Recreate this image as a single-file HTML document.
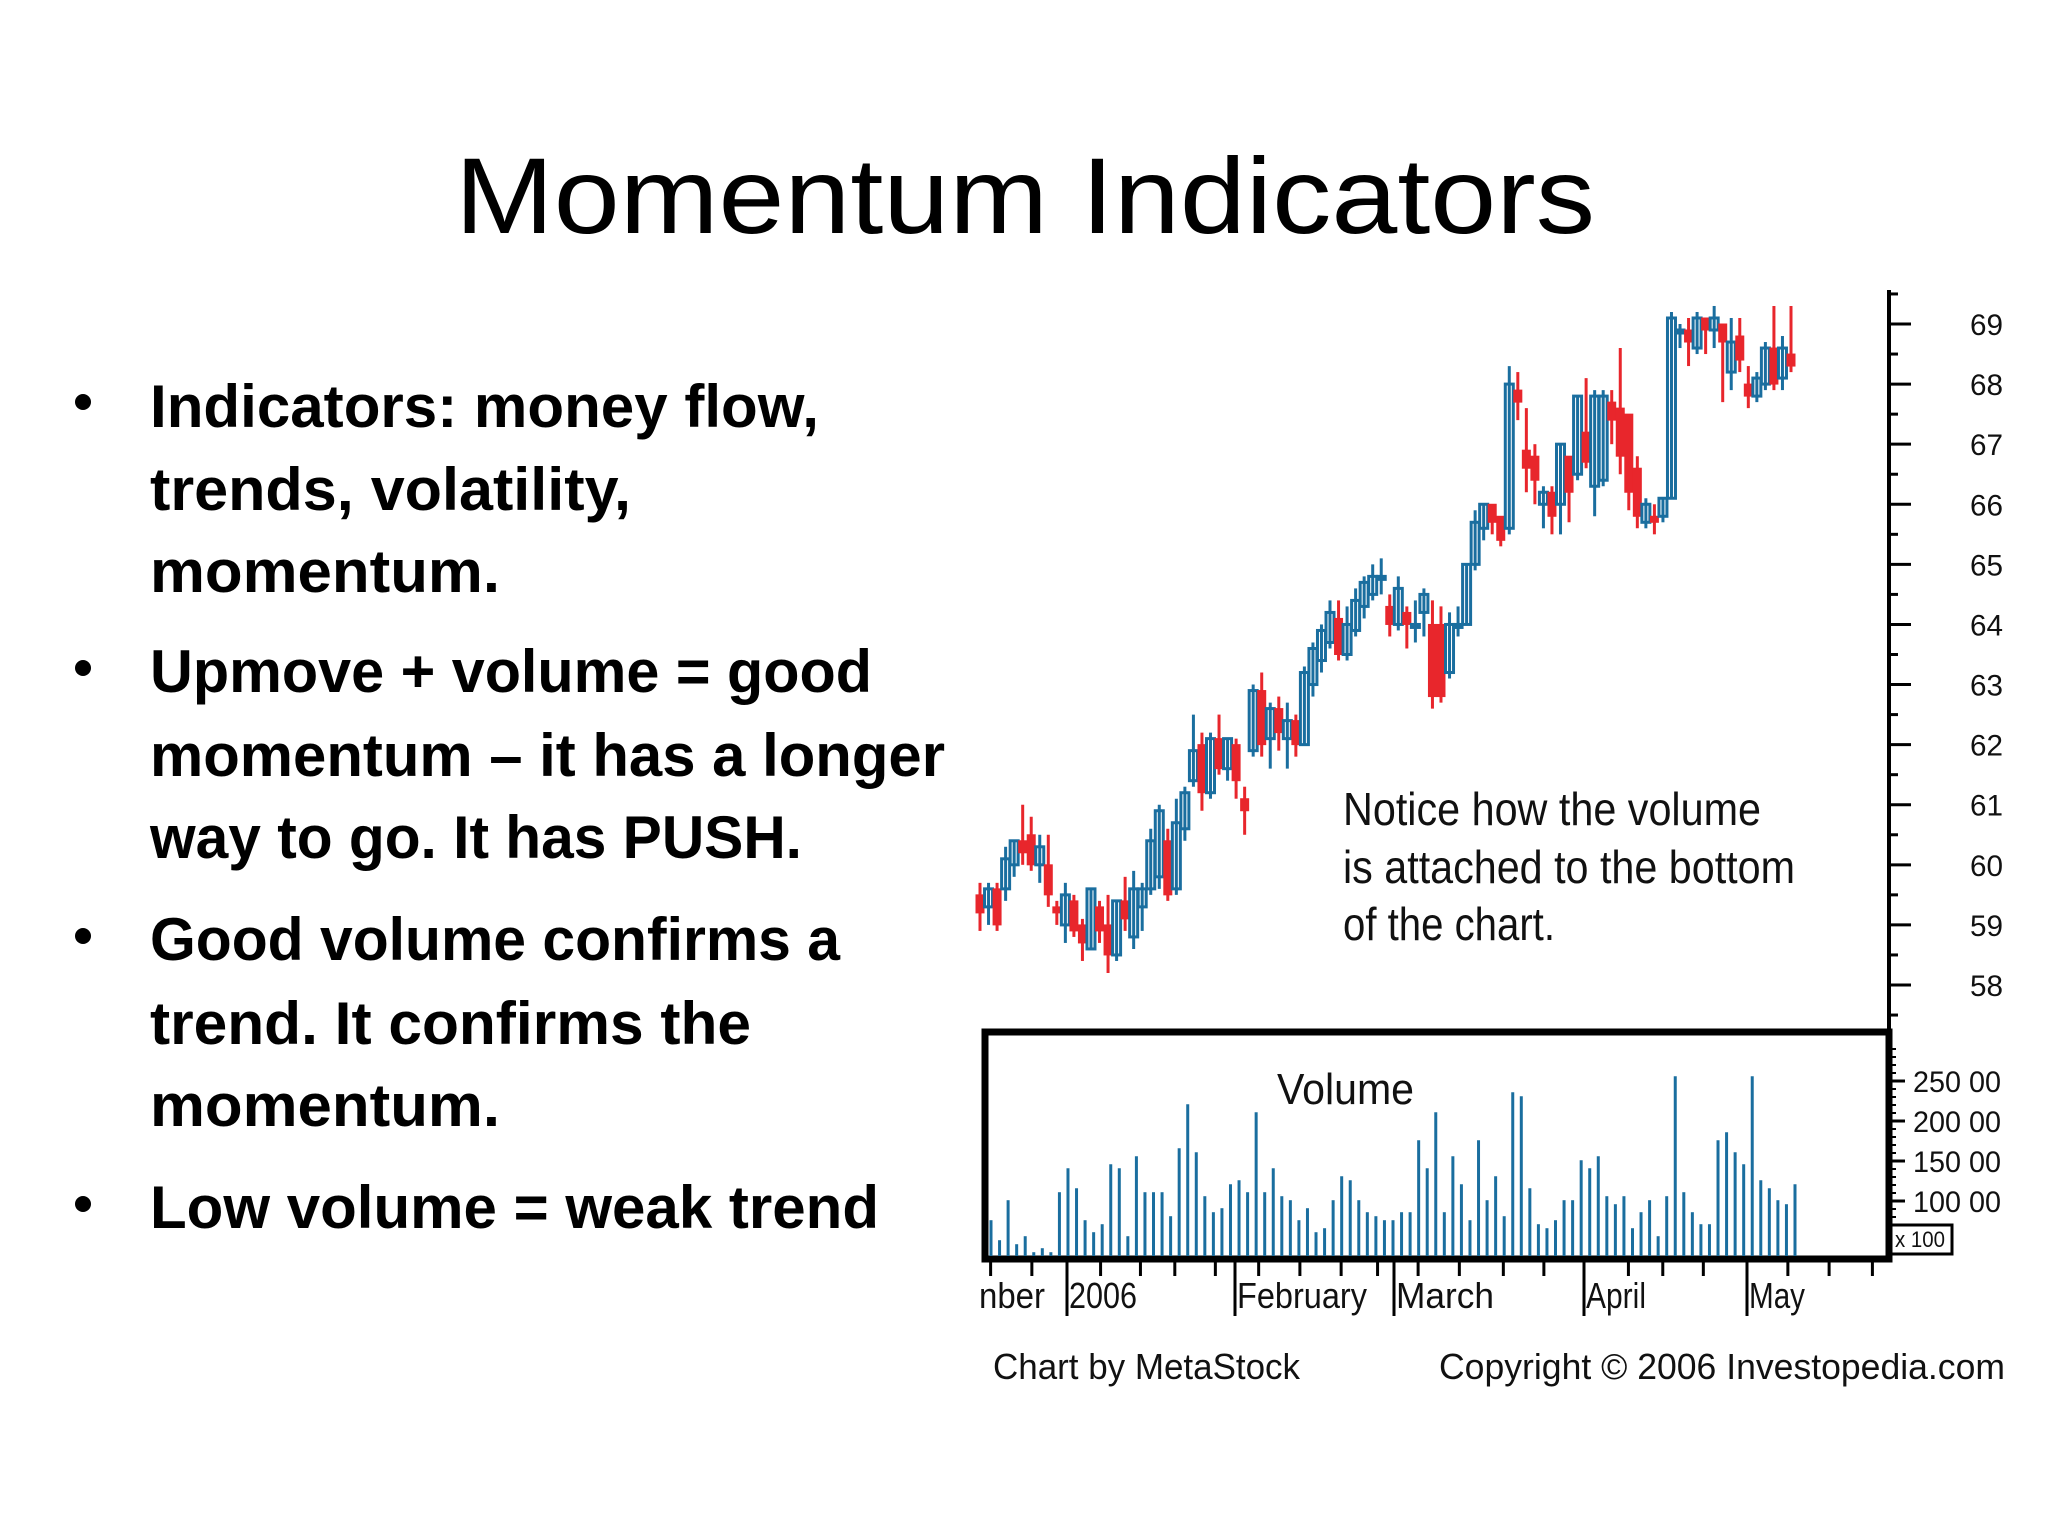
<!DOCTYPE html>
<html><head><meta charset="utf-8"><style>
html,body{margin:0;padding:0;background:#fff;}
svg{display:block;}
.b{font-family:"Liberation Sans",sans-serif;font-weight:bold;font-size:60px;fill:#000;}
.c{font-family:"Liberation Sans Narrow","Liberation Sans",sans-serif;fill:#111;}
</style></head><body>
<svg id="s" width="2048" height="1536" viewBox="0 0 2048 1536" xmlns="http://www.w3.org/2000/svg">
<rect width="2048" height="1536" fill="#fff"/>
<text x="455" y="233" font-family="Liberation Sans, sans-serif" font-size="108" textLength="1140" lengthAdjust="spacingAndGlyphs">Momentum Indicators</text>
<g>
<circle cx="83" cy="402" r="8"/>
<text class="b" x="150" y="427" textLength="669" lengthAdjust="spacingAndGlyphs">Indicators: money flow,</text>
<text class="b" x="150" y="510" textLength="481" lengthAdjust="spacingAndGlyphs">trends, volatility,</text>
<text class="b" x="150" y="592" textLength="350" lengthAdjust="spacingAndGlyphs">momentum.</text>
<circle cx="83" cy="668" r="8"/>
<text class="b" x="150" y="692" textLength="722" lengthAdjust="spacingAndGlyphs">Upmove + volume = good</text>
<text class="b" x="150" y="776" textLength="795" lengthAdjust="spacingAndGlyphs">momentum – it has a longer</text>
<text class="b" x="150" y="858" textLength="652" lengthAdjust="spacingAndGlyphs">way to go. It has PUSH.</text>
<circle cx="83" cy="936" r="8"/>
<text class="b" x="150" y="960" textLength="690" lengthAdjust="spacingAndGlyphs">Good volume confirms a</text>
<text class="b" x="150" y="1044" textLength="601" lengthAdjust="spacingAndGlyphs">trend. It confirms the</text>
<text class="b" x="150" y="1126" textLength="350" lengthAdjust="spacingAndGlyphs">momentum.</text>
<circle cx="83" cy="1204" r="8"/>
<text class="b" x="150" y="1228" textLength="729" lengthAdjust="spacingAndGlyphs">Low volume = weak trend</text>
</g>
<g id="chart"></g>
</svg>
<script>
const opens=[59.5,59.3,59.6,59.6,60.0,60.4,60.5,60.0,60.0,59.3,59.0,59.4,59.0,58.6,59.3,59.0,58.5,59.4,58.8,59.3,59.6,59.8,60.4,59.6,60.6,61.4,62.0,61.2,62.1,61.6,62.0,61.1,61.9,62.9,62.1,62.6,62.1,62.4,62.0,63.0,63.4,63.7,64.1,63.5,63.9,64.3,64.5,64.8,64.3,64.0,64.2,64.0,64.2,64.0,64.0,63.2,64.0,64.0,65.0,65.6,66.0,65.8,65.6,67.9,66.9,66.8,66.0,66.2,66.0,66.8,66.5,67.2,66.3,66.4,67.7,67.6,67.5,66.6,65.7,65.8,65.8,66.1,68.9,68.9,68.6,69.1,68.9,69.0,68.2,68.8,68.0,67.8,68.0,68.6,68.1,68.5];
const closes=[59.2,59.6,59.0,60.1,60.4,60.2,60.0,60.3,59.5,59.2,59.5,58.9,58.7,59.6,58.9,58.5,59.4,59.1,59.6,59.6,60.4,60.9,59.5,60.7,61.2,61.9,61.2,62.1,61.6,62.1,61.4,60.9,62.9,62.0,62.6,62.2,62.4,62.0,63.2,63.6,63.9,64.2,63.5,64.0,64.4,64.7,64.8,64.8,64.0,64.6,64.0,64.0,64.5,62.8,62.8,64.0,64.0,65.0,65.7,66.0,65.7,65.4,68.0,67.7,66.6,66.4,66.2,65.8,67.0,66.2,67.8,66.7,67.8,67.8,67.4,66.8,66.2,65.8,66.0,65.7,66.1,69.1,68.9,68.7,69.1,68.9,69.1,68.7,68.7,68.4,67.8,68.1,68.6,68.0,68.6,68.3];
const highs=[59.7,59.7,59.7,60.3,60.4,61.0,60.8,60.5,60.5,59.4,59.7,59.5,59.1,59.6,59.4,59.5,59.4,59.8,59.9,59.7,60.6,61.0,60.6,61.1,61.3,62.5,62.2,62.2,62.5,62.1,62.1,61.3,63.0,63.2,62.7,62.8,62.7,62.5,63.3,63.7,64.0,64.4,64.4,64.3,64.6,64.8,65.0,65.1,64.5,64.8,64.3,64.4,64.6,64.4,64.3,64.2,64.3,65.0,65.9,66.0,66.0,65.8,68.3,68.2,67.6,67.0,66.3,66.3,67.0,66.8,67.8,68.1,67.9,67.9,67.9,68.6,67.5,66.8,66.1,66.0,66.1,69.2,69.0,69.1,69.2,69.1,69.3,69.0,69.1,69.1,68.3,68.2,68.7,69.3,68.8,69.3];
const lows=[58.9,59.0,58.9,59.4,59.8,60.0,59.9,59.7,59.3,59.0,58.7,58.8,58.4,58.6,58.7,58.2,58.4,58.9,58.6,58.9,59.5,59.6,59.4,59.5,60.4,61.3,60.9,61.1,61.5,61.4,61.1,60.5,61.8,61.8,61.6,61.9,61.6,61.8,62.0,62.8,63.2,63.6,63.4,63.4,63.8,64.1,64.4,64.5,63.8,63.9,63.6,63.7,63.8,62.6,62.7,63.1,63.8,64.0,64.9,65.4,65.5,65.3,65.5,67.4,66.2,66.0,65.6,65.5,65.5,65.7,66.4,66.6,65.8,66.3,67.0,66.5,65.9,65.6,65.6,65.5,65.7,66.1,68.6,68.3,68.5,68.5,68.6,67.7,67.9,68.2,67.6,67.7,67.9,67.9,67.9,68.2];
const volumes=[7600,5100,10100,4600,5600,3600,4100,3600,11100,14100,11600,7600,6100,7100,14600,14100,5600,15600,11100,11100,11100,8100,16600,22100,16100,10600,8600,9100,12100,12600,11100,21100,11100,14100,10600,10100,7600,9100,6100,6600,10100,13100,12600,10100,8600,8100,7600,7600,8600,8600,17600,14100,21100,8600,15600,12100,7600,17600,10100,13100,8100,23600,23100,11600,7100,6600,7600,10100,10100,15100,14100,15600,10600,9600,10600,6600,8600,10100,5600,10600,25600,11100,8600,7100,7100,17600,18600,16100,14600,25600,12600,11600,10100,9600,12100];
const priceTicks=[69,68,67,66,65,64,63,62,61,60,59,58];
const volTicks=[25000,20000,15000,10000];
const volTickLabels=["250 00","200 00","150 00","100 00"];
const monthLabels=["nber","2006","February","March","April","May"];

const NS="http://www.w3.org/2000/svg";
const g=document.getElementById('chart');
function mk(t,a,parent){const e=document.createElementNS(NS,t);for(const k in a)e.setAttribute(k,a[k]);(parent||g).appendChild(e);return e;}
const yP=p=>324+(69-p)*(985-324)/11;
const xC=i=>980+i*(1791-980)/(opens.length-1);
const yV=v=>1201-(v-10000)*(120/15000);
const xV=i=>991+i*(1795-991)/(volumes.length-1);
const AX=1889;

// candles
for(let i=0;i<opens.length;i++){
  const up=closes[i]>=opens[i];
  const col=up?'#1a6e9f':'#e8262c';
  const x=xC(i);
  const w=mk('line',{x1:x,x2:x,y1:yP(highs[i]),y2:yP(lows[i]),stroke:col,'stroke-width':3});
  
  
  const top=yP(Math.max(opens[i],closes[i])),bot=yP(Math.min(opens[i],closes[i]));
  const r=mk('rect',{x:x-4,y:top,width:8,height:Math.max(3,bot-top),fill:up?'none':col,stroke:col,'stroke-width':up?3:1});
  
  
}
// price axis
const ax=mk('line',{x1:AX,x2:AX,y1:290,y2:1262,stroke:'#000','stroke-width':4});


priceTicks.forEach(p=>{
  const t=mk('line',{x1:AX,x2:AX+22,y1:yP(p),y2:yP(p),stroke:'#000','stroke-width':3});
  
  
  const m=mk('line',{x1:AX,x2:AX+9,y1:yP(p+0.5),y2:yP(p+0.5),stroke:'#000','stroke-width':3});
  
  
  const l=mk('text',{x:1970,y:yP(p)+11,'font-size':30,class:'c',textLength:33,lengthAdjust:'spacingAndGlyphs'});
  l.textContent=String(p);
  
  
});
const m58=mk('line',{x1:AX,x2:AX+9,y1:yP(57.5),y2:yP(57.5),stroke:'#000','stroke-width':3});



// volume panel
const box=mk('rect',{x:985,y:1032,width:AX-985,height:227,fill:'none',stroke:'#000','stroke-width':7});


volumes.forEach((v,i)=>{
  const b=mk('line',{x1:xV(i),x2:xV(i),y1:yV(v),y2:1256,stroke:'#1a6e9f','stroke-width':3});
  
  
});
const vt=mk('text',{x:1277,y:1104,'font-size':44,class:'c',textLength:137,lengthAdjust:'spacingAndGlyphs'});
vt.textContent='Volume';


volTicks.forEach((v,k)=>{
  const t=mk('line',{x1:AX,x2:AX+16,y1:yV(v),y2:yV(v),stroke:'#000','stroke-width':3});
  
  
  const l=mk('text',{x:1913,y:yV(v)+11,'font-size':30,class:'c',textLength:88,lengthAdjust:'spacingAndGlyphs'});
  l.textContent=volTickLabels[k];
  
  
});
for(let v=6000;v<=29000;v+=1000){
  const t=mk('line',{x1:AX,x2:AX+7,y1:yV(v),y2:yV(v),stroke:'#000','stroke-width':2});
  
  
}
const xb=mk('rect',{x:1891,y:1225,width:61,height:29,fill:'#fff',stroke:'#000','stroke-width':3});


const xt=mk('text',{x:1895,y:1247,'font-size':22,class:'c',textLength:50,lengthAdjust:'spacingAndGlyphs'});
xt.textContent='x 100';



// x axis ticks
const minor=[30,90,190,248,298,357,420,480,540,593,652,712,776,835,958,1008,1067,1190,1250,1313];
minor.forEach(z=>{const x=970+z/1.455;
  const t=mk('line',{x1:x,x2:x,y1:1262,y2:1276,stroke:'#000','stroke-width':3});
  
  });
const majorX=[1067,1235,1394,1584,1747];
majorX.forEach(x=>{
  const t=mk('line,'.slice(0,4),{x1:x,x2:x,y1:1262,y2:1316,stroke:'#000','stroke-width':3});
  
  });
const labX=[979,1069,1237,1396,1586,1749];
const labW=[66,68,130,98,60,56];
monthLabels.forEach((s,k)=>{
  const l=mk('text',{x:labX[k],y:1308,'font-size':36,class:'c',textLength:labW[k],lengthAdjust:'spacingAndGlyphs'});
  l.textContent=s;
  
  
});

// annotations
const notes=[["Notice how the volume",825,418],["is attached to the bottom",883,452],["of the chart.",940,212]];
notes.forEach(n=>{
  const l=mk('text',{x:1343,y:n[1],'font-size':46,class:'c',textLength:n[2],lengthAdjust:'spacingAndGlyphs',fill:'#222'});
  l.textContent=n[0];
  
  
});
const f1=mk('text',{x:993,y:1379,'font-size':36,class:'c',textLength:307,lengthAdjust:'spacingAndGlyphs'});
f1.textContent='Chart by MetaStock';


const f2=mk('text',{x:1439,y:1379,'font-size':36,class:'c',textLength:566,lengthAdjust:'spacingAndGlyphs'});
f2.textContent='Copyright © 2006 Investopedia.com';


</script>
</body></html>
